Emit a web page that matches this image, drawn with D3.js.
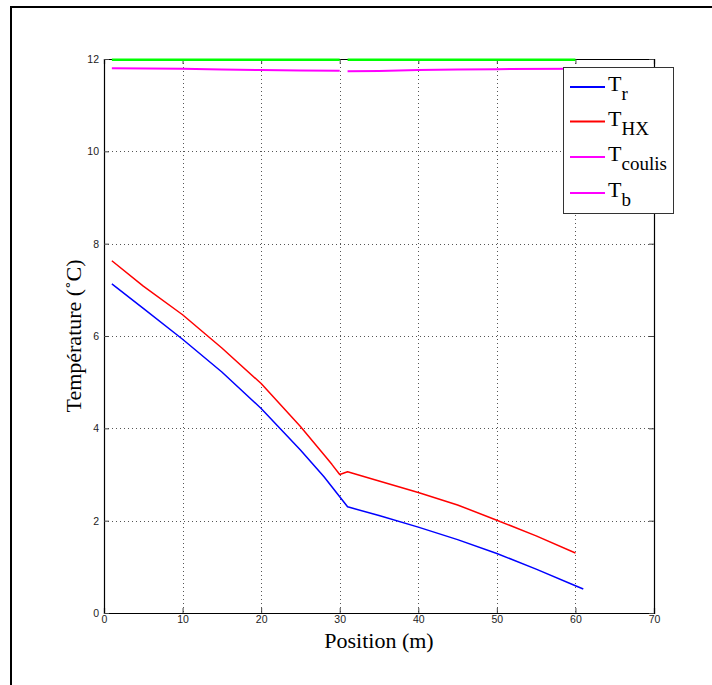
<!DOCTYPE html>
<html><head><meta charset="utf-8">
<script src="https://cdn.jsdelivr.net/npm/d3@7"></script>
<style>body{margin:0;background:#fff}svg{display:block}</style>
</head><body>
<script>
// Data
const trX  = [1, 5, 10, 15, 20, 25, 28, 30, 31, 35, 40, 45, 50, 55, 60, 61];
const trY  = [7.13, 6.6, 5.93, 5.22, 4.43, 3.53, 2.95, 2.52, 2.30, 2.11, 1.86, 1.59, 1.29, 0.95, 0.59, 0.52];
const thxX = [1, 5, 10, 15, 20, 25, 28, 29, 30, 31, 35, 40, 45, 50, 55, 60];
const thxY = [7.63, 7.08, 6.46, 5.74, 4.97, 4.04, 3.43, 3.22, 3.0, 3.06, 2.86, 2.61, 2.34, 2.01, 1.67, 1.30];
const tcoulisX1 = [1, 10, 15, 20, 25, 30];
const tcoulisY1 = [11.80, 11.79, 11.77, 11.76, 11.75, 11.745];
const tcoulisX2 = [31, 35, 40, 45, 50, 60];
const tcoulisY2 = [11.735, 11.74, 11.76, 11.77, 11.78, 11.79];
const greenX1 = [1, 30];
const greenY1 = [11.985, 11.985];
const greenX2 = [31, 60];
const greenY2 = [11.985, 11.985];
const xTicks = [0, 10, 20, 30, 40, 50, 60, 70];
const yTicks = [0, 2, 4, 6, 8, 10, 12];
const legendLabels = [["T","r"],["T","HX"],["T","coulis"],["T","b"]];
const legendColors = ["#0000ff","#ff0000","#ff00ff","#ff00ff"];

const W = 712, H = 685;
const svg = d3.select("body").append("svg").attr("width", W).attr("height", H);
svg.append("rect").attr("width", W).attr("height", H).attr("fill", "#fff");

// outer frame (top and left visible)
svg.append("path").attr("d", `M11,${H} L11,7 L${W},7`).attr("fill","none").attr("stroke","#000").attr("stroke-width",2);

const L = 104, R = 654, T = 59, B = 613;
const x = d3.scaleLinear().domain([0, 70]).range([L, R]);
const y = d3.scaleLinear().domain([0, 12]).range([B, T]);

// grid
const grid = svg.append("g").attr("stroke", "#555").attr("stroke-width", 1).attr("stroke-dasharray", "1,3");
xTicks.slice(1, -1).forEach(t => grid.append("line").attr("x1", Math.round(x(t))+0.5).attr("x2", Math.round(x(t))+0.5).attr("y1", T).attr("y2", B));
yTicks.slice(1, -1).forEach(t => grid.append("line").attr("y1", Math.round(y(t))+0.5).attr("y2", Math.round(y(t))+0.5).attr("x1", L).attr("x2", R));

// axes
const fontTick = "Liberation Sans, Arial, sans-serif";
const xb = svg.append("g").attr("transform", `translate(0,${B})`).call(d3.axisBottom(x).tickValues(xTicks).tickSize(-5).tickPadding(3));
const xt = svg.append("g").attr("transform", `translate(0,${T})`).call(d3.axisTop(x).tickValues(xTicks).tickSize(-5).tickFormat(""));
const yl = svg.append("g").attr("transform", `translate(${L},0)`).call(d3.axisLeft(y).tickValues(yTicks).tickSize(-5).tickPadding(5));
const yr = svg.append("g").attr("transform", `translate(${R},0)`).call(d3.axisRight(y).tickValues(yTicks).tickSize(-5).tickFormat(""));
[xb, xt, yl, yr].forEach(g => {
  g.select(".domain").attr("stroke", "#000").attr("stroke-width", 1.2);
  g.selectAll(".tick line").attr("stroke", "#444");
  g.selectAll(".tick text").attr("font-family", fontTick).attr("font-size", 10.5).attr("fill", "#222");
});

// lines
const line = d3.line().x(d => x(d[0])).y(d => y(d[1]));
const zip = (a, b) => a.map((v, i) => [v, b[i]]);
function draw(xs, ys, color, w) {
  svg.append("path").datum(zip(xs, ys)).attr("d", line).attr("fill", "none").attr("stroke", color).attr("stroke-width", w).attr("stroke-linejoin","round");
}
draw(greenX1, greenY1, "#00ff00", 2.5);
draw(greenX2, greenY2, "#00ff00", 2.5);
draw(tcoulisX1, tcoulisY1, "#ff00ff", 2);
draw(tcoulisX2, tcoulisY2, "#ff00ff", 2);
draw(trX, trY, "#0000ff", 1.5);
draw(thxX, thxY, "#ff0000", 1.5);

// axis labels
const serif = "Liberation Serif, Times New Roman, serif";
svg.append("text").attr("x", (L + R) / 2).attr("y", 648).attr("text-anchor", "middle")
  .attr("font-family", serif).attr("font-size", 22).attr("fill", "#000").text("Position (m)");
svg.append("text").attr("transform", `translate(81,${(T + B) / 2}) rotate(-90)`).attr("text-anchor", "middle")
  .attr("font-family", serif).attr("font-size", 22).attr("fill", "#000").text("Température (˚C)");

// legend
const lg = svg.append("g");
lg.append("rect").attr("x", 563.5).attr("y", 67.5).attr("width", 110).attr("height", 146)
  .attr("fill", "#fff").attr("stroke", "#333").attr("stroke-width", 1);
const ly = [87, 121.5, 157, 193];
legendLabels.forEach((lab, i) => {
  lg.append("line").attr("x1", 570).attr("x2", 605).attr("y1", ly[i]).attr("y2", ly[i])
    .attr("stroke", legendColors[i]).attr("stroke-width", 2);
  const t = lg.append("text").attr("x", 608).attr("y", ly[i] + 4).attr("font-family", serif).attr("font-size", 22).attr("fill", "#000");
  t.append("tspan").text(lab[0]);
  t.append("tspan").attr("dy", 9).attr("font-size", 19).text(lab[1]);
});
</script>
</body></html>
